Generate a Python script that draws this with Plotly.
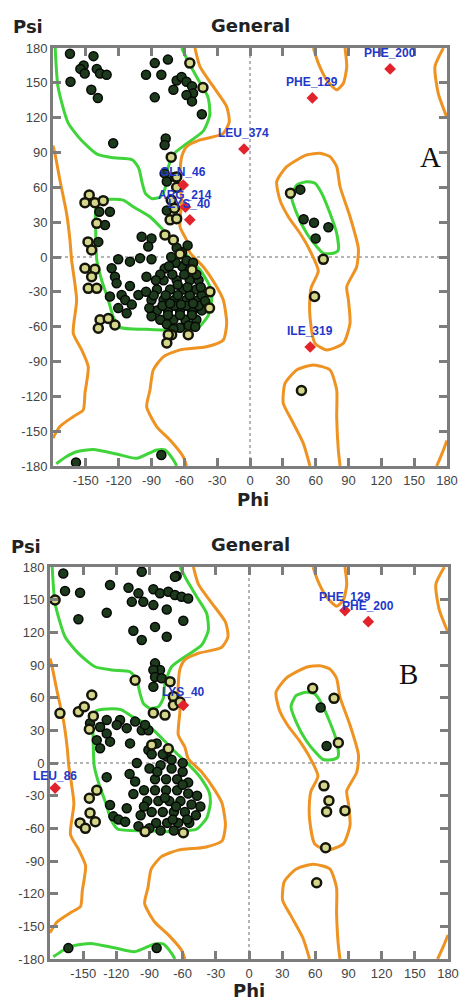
import plotly.graph_objects as go

# ---------------- axis ticks ----------------
TICK_VALUES = list(range(-180, 181, 30))
X_TICK_TEXT = [""] + [str(v) for v in range(-150, 181, 30)]
Y_TICK_TEXT = [str(v) for v in range(-180, 181, 30)]

# ---------------- contour lines (phi, psi) ----------------
GREEN_BETA_PHI = [-178, -175.4, -166.4, -154.3, -139.2, -124.1, -107.6, -101.5, -98.6, -95.6, -89.5, -82, -77.5, -76, -70, -57.9, -42.8, -36.8, -38.3, -47.3, -56.3, -62.4]
GREEN_BETA_PSI = [180, 146.6, 116, 100.7, 88.4, 85.4, 83.8, 76.2, 64, 54.8, 50.2, 51.7, 59.4, 73.2, 88.4, 97.6, 108.4, 122, 137.5, 152.7, 168, 180]
GREEN_BOTTOM_PHI = [-177, -168, -158.4, -143.2, -121.8, -103.6, -85.3, -77.7, -70, -67]
GREEN_BOTTOM_PSI = [-178, -172, -167.7, -165.7, -169.7, -173.4, -166.2, -166.2, -174.8, -180]
GREEN_ALPHA_PHI = [-141, -141, -138, -128, -115.8, -106.7, -91.4, -79.2, -67, -55, -45.7, -39.6, -36, -35, -38, -47.2, -70, -94.4, -118.8, -125, -129.5, -135.6, -140, -141]
GREEN_ALPHA_PSI = [23, 40, 48, 49.7, 49, 43.3, 34.7, 23.2, 10.3, -1, -11, -20, -27, -37, -50, -60.6, -63, -62.3, -60.6, -51.4, -37, -19.8, -2.6, 23]
GREEN_LALPHA_PHI = [51.8, 42.7, 38, 42.7, 51.8, 61, 67, 76.2, 80.7, 79.2, 73.1, 65.5, 59.4, 51.8]
GREEN_LALPHA_PSI = [64.9, 62, 52, 37.6, 20.4, 8.9, 3.2, 3.2, 6, 20.4, 37.6, 54.9, 63.5, 64.9]

ORANGE_MAIN_PHI = [-50.3, -45.7, -33.5, -21.3, -19, -25, -45.7, -57.9, -62.4, -64, -64, -62.4, -64, -58, -55, -42.7, -30.5, -24.4, -21.3, -24.4, -39.6, -64, -79.2, -88.4, -91.4, -94.4, -85.3, -73.1, -61, -58]
ORANGE_MAIN_PSI = [180, 164, 146.7, 129.5, 116, 106, 100.8, 95, 86.4, 72, 60.5, 49, 26, 14.6, 4, -8.4, -25.6, -37, -57, -71.5, -77.3, -80, -86, -97.3, -114.6, -129, -146, -157.6, -172, -180]
ORANGE_LEFT_PHI = [-180, -178.2, -173.7, -167.6, -164.5, -163, -158.4, -161.5, -153.8, -147.8, -150.8, -152.4, -161.5, -173.7, -180]
ORANGE_LEFT_PSI = [96, 89, 66.3, 37.6, 14.6, -2.6, -37, -65.7, -80, -94.5, -117.5, -131.8, -137.5, -146, -156]
ORANGE_RTOP_PHI = [176.7, 169, 172, 180]
ORANGE_RTOP_PSI = [180, 164, 141, 120]
ORANGE_RBOT_PHI = [180, 176, 170.6]
ORANGE_RBOT_PSI = [-158, -168, -180]
ORANGE_LALPHA_PHI = [64, 51.8, 33.5, 24.4, 27.4, 35, 45.7, 54, 62.4, 56, 54.8, 54.8, 59.4, 70.1, 85.3, 91.4, 89.9, 88.4, 97.5, 99, 91.4, 82.3, 79.2, 73.1, 64]
ORANGE_LALPHA_PSI = [89.3, 87.9, 77.8, 64.9, 49, 34.7, 20.4, 7, -12, -26, -34.2, -51.4, -74.3, -80, -74.3, -57, -37, -25.6, -8.4, 7.5, 34.7, 60.5, 77.8, 86.4, 89.3]
ORANGE_LOW_PHI = [54.8, 48.7, 38, 30.4, 32, 42.7, 57.9, 73.1, 79.2, 79.2, 80.7, 82.3]
ORANGE_LOW_PSI = [-180, -160.5, -140.4, -126, -108.8, -97.3, -93, -97.3, -114.6, -137.5, -166.2, -180]
ORANGE_TOP_PHI = [57.9, 62.4, 70.1, 79.2, 85.3, 88.4, 86.8]
ORANGE_TOP_PSI = [180, 167, 152.5, 144, 149.6, 164, 180]

# ---------------- Panel A residues ----------------
A_DARK_PHI = [-164.5, -143, -152, -155, -151, -140, -137, -131, -164, -145, -139, -125,
              -87, -75, -95, -81, -87, -67, -62.5, -58, -70, -53, -52, -58, -53, -44, -77, -78,
              -78, -76, -69, -76,
              -137.7, -128, -132.5, -138.6,
              -99, -90, -93, -120.4, -109.7, -100.5, -90, -126.4, -123.4, -121.9, -94.6, -109.7,
              -117.3, -114, -128, -108, -120.4, -112.7, -102,
              -78, -62, -55, -79, -67, -55, -47, -85, -73, -61, -49, -90, -79, -69, -58, -47,
              -85, -75, -64, -53, -44, -82, -70, -59, -49, -64, -90,
              -82, -71, -60, -49, -88, -77, -66, -55, -44, -80, -69, -58, -47, -75, -64, -53,
              -76, -56, -68, -58, -72, -62, -52, -45, -41, -86, -92, -95, -70, -50, -66, -57,
              -73, -63, -52, -67, -57, -74,
              46, 49, 58.5, 71.6, 60,
              -81, -159]
A_DARK_PSI = [175, 173, 165, 162, 158, 162, 158, 157, 151, 144, 137, 98,
              167, 170, 157, 157, 137.5, 152, 155, 151, 144, 147, 141, 139.5, 134, 123, 102, 96.5,
              72, 65, 69, 40,
              39, 39, 27.6, 13,
              17.5, 16, 9, -2, -4, -1, -2, -9.7, -17, -22.7, -17, -25,
              -32.7, -37, -34, -41, -44, -48.5, -32.7,
              -10, -8, -11, -20, -20, -20, -20, -28, -28, -28, -28, -37, -37, -37, -37, -37,
              -46, -46, -46, -46, -46, -54, -54, -54, -54, -61, -51,
              -15, -15, -15, -15, -33, -33, -33, -33, -33, -42, -42, -42, -42, -50, -50, -50,
              -58, -59, -5, -3, 0, 4, -5, -26, -38, -20, -44, -30, -62, -60, -24, -26,
              -40, -41, -40, 8, 10, -8,
              58, 32.5, 29.5, 25.6, 16,
              -170.5, -177]
A_LIGHT_PHI = [-55, -43, -72, -67, -67, -72, -69, -73, -67,
               -146.9, -150.8, -141.7, -134.1, -140,
               -148, -144.7, -150.8, -141.7, -144.7, -147.8, -140,
               -137, -129.5, -123.4, -138.6,
               -77.7, -70, -36.6, -37, -56.4, -71.6, -74.7, -76, -53, -64,
               37, 67, 59, 47]
A_LIGHT_PSI = [167, 146, 86, 69, 60, 49, 42, 32, 33,
               53.4, 46.8, 46.8, 48.5, 29,
               13, 6, -9.7, -10.6, -17, -27, -27,
               -54, -53, -58.6, -61.4,
               19, 14.6, -30, -44, -67, -67, -67, -74, -11, 2.6,
               55, -2, -34, -115]
A_OUT_NAMES = ["LEU_374", "PHE_129", "PHE_200", "ILE_319", "GLN_46", "ARG_214", "LYS_40"]
A_OUT_PHI = [-5.5, 57, 128, 55, -61, -59, -55]
A_OUT_PSI = [93, 137, 162, -77.5, 62, 43, 32]

# ---------------- Panel B residues ----------------
B_DARK_PHI = [-168, -166.4, -152.8, -125.7, -154.3, -128.7, -97, -109, -100, -95.6, -106,
              -86.5, -80.5, -73, -67, -61, -55, -65.4, -67, -86.5, -74.4, -59.4, -104.6, -97, -85, -74.4,
              -85, -80.5, -86.5, -85, -79, -86.5,
              -134.7, -128.7, -137.7, -128.7, -125.7, -134.7, -116.6, -110.6, -103, -97, -91,
              -83.5, -91, -74.4, -107.6, -119.6, -94, -143.8,
              -101.5, -103, -104.6, -110.6, -122.7, -118, -112, -125.7, -128.7,
              -90, -80, -70, -60, -85, -75, -65, -55, -95, -85, -75, -65, -55, -47, -92, -82, -72,
              -62, -52, -44, -88, -78, -68, -58, -48, -98, -84, -74, -64, -54, -80, -68, -100, -90,
              -70, -78, -88, -60, -66, -56, -95, -108, -76, -69, -60, -83,
              64.8, 70.2,
              -163.4, -83.5]
B_DARK_PSI = [174, 158, 156.4, 163.5, 132, 138, 175.7, 161, 155.8, 148, 148,
              159.5, 155.8, 157.3, 154.3, 152.7, 151, 171.7, 171, 145, 141, 130.7, 121.5, 113, 125, 116,
              91.5, 85.4, 85.4, 79, 77.8, 70,
              33, 39.5, 21, 27, 19.6, 13.5, 39.5, 32, 38, 30, 30,
              18, 12, 6, 18, 35, 35, 36.5,
              0, -17, -28.5, -41.6, -49, -52, -54, -38.6, -13,
              -5, -2, -5, -8, -15, -15, -15, -18, -25, -25, -25, -25, -28, -30, -35, -35, -35,
              -35, -38, -40, -45, -45, -45, -45, -48, -48, -55, -55, -55, -55, -62, -62, -58, -60,
              3, 8, 8, 0, -40, -52, -40, -10, -32, -52, -20, -8,
              51, 15.6,
              -170, -170]
B_LIGHT_PHI = [-175.4, -103, -71.4, -142.2, -171, -154.3, -149, -68.4, -68.4, -62.4, -86.5, -76,
               -140.8, -144.4, -88, -73, -137.7, -144.4, -152.8, -148, -143.8, -139, -94, -59.4,
               57.6, 76.9, 80.8, 67.8, 72.3, 70.2, 86.8, 69.3, 61.2]
B_LIGHT_PSI = [149.7, 76, 74.7, 62.4, 45.6, 47, 51.7, 61, 53, 56, 46, 44,
               43, 31, 16.5, 13, -25, -32.4, -55, -60, -46, -54, -63, -64,
               68.6, 59.4, 18.6, -21, -34.6, -44.7, -43.8, -77.8, -110]
B_OUT_NAMES = ["LYS_40", "LEU_86", "PHE_129", "PHE_200"]
B_OUT_PHI = [-59.4, -175.4, 86.8, 107.9]
B_OUT_PSI = [53, -23, 140, 129.8]

GREEN = "#3fd43a"
ORANGE = "#ee9322"
AXIS_GREY = "#7d7d7d"
TICK_FONT = dict(family="Liberation Sans, Arial, sans-serif", size=13, color="#444")
LABEL_FONT = dict(family="Liberation Sans, Arial, sans-serif", size=12, color="#2337c8", weight="bold")

fig = go.Figure()

CONTOURS = [
    (GREEN_BETA_PHI, GREEN_BETA_PSI, GREEN),
    (GREEN_BOTTOM_PHI, GREEN_BOTTOM_PSI, GREEN),
    (GREEN_ALPHA_PHI, GREEN_ALPHA_PSI, GREEN),
    (GREEN_LALPHA_PHI, GREEN_LALPHA_PSI, GREEN),
    (ORANGE_MAIN_PHI, ORANGE_MAIN_PSI, ORANGE),
    (ORANGE_LEFT_PHI, ORANGE_LEFT_PSI, ORANGE),
    (ORANGE_RTOP_PHI, ORANGE_RTOP_PSI, ORANGE),
    (ORANGE_RBOT_PHI, ORANGE_RBOT_PSI, ORANGE),
    (ORANGE_LALPHA_PHI, ORANGE_LALPHA_PSI, ORANGE),
    (ORANGE_LOW_PHI, ORANGE_LOW_PSI, ORANGE),
    (ORANGE_TOP_PHI, ORANGE_TOP_PSI, ORANGE),
]


def add_panel(xa, ya, dark, light, outl, shifts):
    for px, py, col in CONTOURS:
        fig.add_trace(go.Scatter(x=px, y=py, mode="lines", xaxis=xa, yaxis=ya,
                                 line=dict(color=col, width=3, shape="spline", smoothing=0.6),
                                 hoverinfo="skip"))
    fig.add_trace(go.Scatter(x=dark[0], y=dark[1], mode="markers", xaxis=xa, yaxis=ya,
                             marker=dict(symbol="circle", size=9, color="#1d3a1c",
                                         line=dict(color="#050805", width=1.5))))
    fig.add_trace(go.Scatter(x=light[0], y=light[1], mode="markers", xaxis=xa, yaxis=ya,
                             marker=dict(symbol="circle", size=9, color="#d4d68a",
                                         line=dict(color="#15150a", width=2.5))))
    fig.add_trace(go.Scatter(x=outl[1], y=outl[2], mode="markers", xaxis=xa, yaxis=ya,
                             marker=dict(symbol="diamond", size=9, color="#e3232b",
                                         line=dict(color="#e3232b", width=0))))
    for (name, px, py), ys in zip(zip(*outl), shifts):
        fig.add_annotation(x=px, y=py, xref=xa, yref=ya, text=name, showarrow=False,
                           yshift=ys, font=LABEL_FONT)
    for shp in [dict(x0=0, x1=0, y0=-180, y1=180), dict(x0=-180, x1=180, y0=0, y1=0)]:
        fig.add_shape(type="line", xref=xa, yref=ya, layer="below",
                      line=dict(color="#b5b5b5", width=2, dash="dot"), **shp)


add_panel("x", "y", (A_DARK_PHI, A_DARK_PSI), (A_LIGHT_PHI, A_LIGHT_PSI),
          (A_OUT_NAMES, A_OUT_PHI, A_OUT_PSI), [16, 16, 16, 16, 13, 12, 16])
add_panel("x2", "y2", (B_DARK_PHI, B_DARK_PSI), (B_LIGHT_PHI, B_LIGHT_PSI),
          (B_OUT_NAMES, B_OUT_PHI, B_OUT_PSI), [13, 12, 14, 16])

W, H = 460, 1001


def xd(a, b):
    return [a / W, b / W]


def yd(top, bottom):
    return [1 - bottom / H, 1 - top / H]


common = dict(range=[-180, 180], tickmode="array", tickvals=TICK_VALUES, ticks="inside",
              ticklen=8, tickwidth=3, tickcolor=AXIS_GREY, showline=True, linecolor=AXIS_GREY,
              linewidth=3, mirror="ticks", showgrid=False, zeroline=False, tickfont=TICK_FONT,
              automargin=False, tickangle=0, ticklabeloverflow="allow")

fig.update_layout(
    width=W, height=H, margin=dict(l=0, r=0, t=0, b=0, autoexpand=False),
    paper_bgcolor="white", plot_bgcolor="white", showlegend=False,
    xaxis=dict(domain=xd(53, 447), anchor="y", ticktext=X_TICK_TEXT, **common),
    yaxis=dict(domain=yd(48, 466), anchor="x", ticktext=Y_TICK_TEXT, **common),
    xaxis2=dict(domain=xd(50, 448), anchor="y2", ticktext=X_TICK_TEXT, **common),
    yaxis2=dict(domain=yd(567, 959), anchor="x2", ticktext=Y_TICK_TEXT, **common),
)

TITLE_FONT = dict(family="DejaVu Sans, sans-serif", size=18, color="#222", weight="bold")
for txt, x, y in [("Psi", 28, 26), ("General", 250, 25), ("Phi", 253, 499),
                  ("Psi", 26, 546), ("General", 250, 544), ("Phi", 249, 990)]:
    fig.add_annotation(x=x / W, y=1 - y / H, xref="paper", yref="paper", text=txt,
                       showarrow=False, font=TITLE_FONT, xanchor="center", yanchor="middle")

for txt, x, y in [("A", 430, 157), ("B", 408, 674)]:
    fig.add_annotation(x=x / W, y=1 - y / H, xref="paper", yref="paper", text=txt,
                       showarrow=False, xanchor="center", yanchor="middle",
                       font=dict(family="Liberation Serif, Times New Roman, serif", size=29, color="#111"))

fig.write_html("out.html", config={"displayModeBar": False},
               post_script="document.body.style.margin='0';document.body.style.overflow='hidden';")
